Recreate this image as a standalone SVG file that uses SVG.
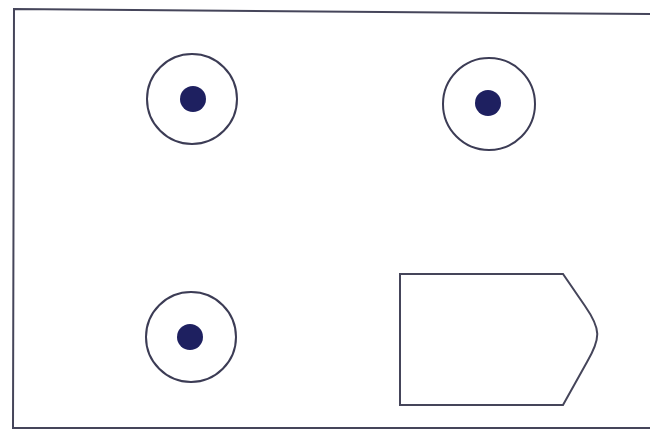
<svg xmlns="http://www.w3.org/2000/svg" width="650" height="430" viewBox="0 0 650 430">
<style>
.ln{fill:none;stroke:#45455a;stroke-width:2}
.ring{fill:#fff;stroke:#3c3c55;stroke-width:2}
.dot{fill:#1e2060}
</style>
<rect width="650" height="430" fill="#fff"/>
<g id="frame"><path class="ln" stroke="#55556a" d="M650,14 L14,9 L13,428 L650,428"/></g>
<g id="hole1"><circle class="ring" cx="192" cy="99" r="45"/><circle class="dot" cx="193" cy="99" r="13"/></g>
<g id="hole2"><circle class="ring" cx="489" cy="104" r="46"/><circle class="dot" cx="488" cy="103" r="13"/></g>
<g id="hole3"><circle class="ring" cx="191" cy="337" r="45"/><circle class="dot" cx="190" cy="337" r="13"/></g>
<g id="plate"><path class="ln" d="M400,274 L563,274 L585,306 C601,329 601,338 587,362 L563,405 L400,405 Z"/></g>
</svg>
